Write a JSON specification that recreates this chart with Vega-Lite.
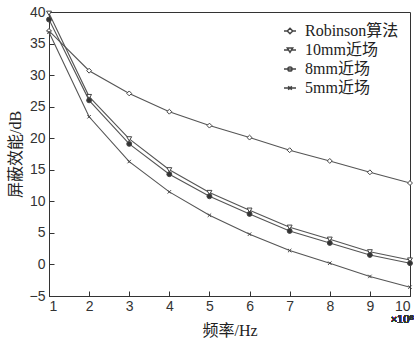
{
  "$schema": "https://vega.github.io/schema/vega-lite/v6.json",
  "width": 361,
  "height": 284,
  "autosize": "none",
  "padding": {"left": 49, "top": 12, "right": 4, "bottom": 45},
  "background": "white",
  "config": {
    "view": {"stroke": "#333", "strokeWidth": 1},
    "axis": {
      "grid": false,
      "domainColor": "#333",
      "tickColor": "#333",
      "labelFont": "Liberation Sans",
      "labelFontSize": 14,
      "labelColor": "#333",
      "titleFont": "'Liberation Serif', 'Noto Sans CJK SC'",
      "titleFontSize": 16,
      "titleFontWeight": "normal",
      "titleColor": "#222"
    },
    "legend": {
      "orient": "top-right",
      "offset": 11,
      "padding": 0,
      "labelFont": "'Liberation Serif', 'Noto Sans CJK SC'",
      "labelFontSize": 16,
      "labelColor": "#222",
      "labelOffset": 7,
      "rowPadding": 3,
      "symbolSize": 144
    }
  },
  "data": {
    "values": [
      {"f": 1, "se": 37.0, "series": "Robinson算法"},
      {"f": 2, "se": 30.7, "series": "Robinson算法"},
      {"f": 3, "se": 27.1, "series": "Robinson算法"},
      {"f": 4, "se": 24.2, "series": "Robinson算法"},
      {"f": 5, "se": 22.0, "series": "Robinson算法"},
      {"f": 6, "se": 20.1, "series": "Robinson算法"},
      {"f": 7, "se": 18.1, "series": "Robinson算法"},
      {"f": 8, "se": 16.4, "series": "Robinson算法"},
      {"f": 9, "se": 14.6, "series": "Robinson算法"},
      {"f": 10, "se": 12.9, "series": "Robinson算法"},
      {"f": 1, "se": 39.8, "series": "10mm近场"},
      {"f": 2, "se": 26.6, "series": "10mm近场"},
      {"f": 3, "se": 19.9, "series": "10mm近场"},
      {"f": 4, "se": 15.0, "series": "10mm近场"},
      {"f": 5, "se": 11.4, "series": "10mm近场"},
      {"f": 6, "se": 8.6, "series": "10mm近场"},
      {"f": 7, "se": 5.9, "series": "10mm近场"},
      {"f": 8, "se": 4.0, "series": "10mm近场"},
      {"f": 9, "se": 2.0, "series": "10mm近场"},
      {"f": 10, "se": 0.7, "series": "10mm近场"},
      {"f": 1, "se": 38.8, "series": "8mm近场"},
      {"f": 2, "se": 26.0, "series": "8mm近场"},
      {"f": 3, "se": 19.1, "series": "8mm近场"},
      {"f": 4, "se": 14.3, "series": "8mm近场"},
      {"f": 5, "se": 10.8, "series": "8mm近场"},
      {"f": 6, "se": 8.0, "series": "8mm近场"},
      {"f": 7, "se": 5.3, "series": "8mm近场"},
      {"f": 8, "se": 3.4, "series": "8mm近场"},
      {"f": 9, "se": 1.5, "series": "8mm近场"},
      {"f": 10, "se": 0.2, "series": "8mm近场"},
      {"f": 1, "se": 36.8, "series": "5mm近场"},
      {"f": 2, "se": 23.4, "series": "5mm近场"},
      {"f": 3, "se": 16.3, "series": "5mm近场"},
      {"f": 4, "se": 11.5, "series": "5mm近场"},
      {"f": 5, "se": 7.8, "series": "5mm近场"},
      {"f": 6, "se": 4.8, "series": "5mm近场"},
      {"f": 7, "se": 2.2, "series": "5mm近场"},
      {"f": 8, "se": 0.2, "series": "5mm近场"},
      {"f": 9, "se": -1.9, "series": "5mm近场"},
      {"f": 10, "se": -3.6, "series": "5mm近场"}
    ]
  },
  "encoding": {
    "x": {
      "field": "f",
      "type": "quantitative",
      "scale": {"domain": [1, 10], "nice": false, "zero": false},
      "axis": {"title": "频率/Hz", "values": [1, 2, 3, 4, 5, 6, 7, 8, 9, 10], "tickSize": -5, "labelPadding": 8, "titlePadding": 9}
    },
    "y": {
      "field": "se",
      "type": "quantitative",
      "scale": {"domain": [-5, 40], "nice": false, "zero": false},
      "axis": {"title": "屏蔽效能/dB", "values": [-5, 0, 5, 10, 15, 20, 25, 30, 35, 40], "tickSize": -5, "labelPadding": 9, "titlePadding": 6}
    }
  },
  "layer": [
    {
      "mark": {"type": "line", "color": "#555", "strokeWidth": 1.1},
      "encoding": {"detail": {"field": "series"}}
    },
    {
      "mark": {"type": "point", "filled": true, "stroke": "#444", "strokeWidth": 1, "size": 24, "opacity": 1},
      "encoding": {
        "shape": {
          "field": "series",
          "type": "nominal",
          "scale": {"domain": ["Robinson算法", "10mm近场", "8mm近场", "5mm近场"], "range": ["diamond", "triangle-down", "circle", "M-0.7,-0.7L0.7,0.7M-0.7,0.7L0.7,-0.7"]},
          "legend": null
        },
        "fill": {
          "field": "series",
          "type": "nominal",
          "scale": {"domain": ["Robinson算法", "10mm近场", "8mm近场", "5mm近场"], "range": ["white", "white", "#333", "white"]},
          "legend": null
        }
      }
    },
    {
      "mark": {"type": "point", "filled": true, "stroke": "#444", "strokeWidth": 1, "opacity": 0},
      "encoding": {
        "shape": {
          "field": "series",
          "type": "nominal",
          "scale": {"domain": ["Robinson算法", "10mm近场", "8mm近场", "5mm近场"], "range": [
            "M-1,0H-0.45M0.45,0H1M0,-0.45L0.45,0L0,0.45L-0.45,0Z",
            "M-1,0H-0.3M0.3,0H1M-0.45,-0.35L0.45,-0.35L0,0.4Z",
            "M-1,0H1M-0.35,0A0.35,0.35 0 1,0 0.35,0A0.35,0.35 0 1,0 -0.35,0Z",
            "M-1,0H1M-0.3,-0.3L0.3,0.3M-0.3,0.3L0.3,-0.3"
          ]},
          "legend": {"title": null, "encode": {"symbols": {"update": {"opacity": {"value": 1}, "stroke": {"value": "#444"}, "strokeWidth": {"value": 1}}}}}
        },
        "fill": {
          "field": "series",
          "type": "nominal",
          "scale": {"domain": ["Robinson算法", "10mm近场", "8mm近场", "5mm近场"], "range": ["white", "white", "#333", "white"]},
          "legend": {"title": null, "encode": {"symbols": {"update": {"opacity": {"value": 1}, "stroke": {"value": "#444"}, "strokeWidth": {"value": 1}}}}}
        }
      }
    },
    {
      "mark": {"type": "text", "align": "right", "baseline": "top", "dx": 4, "dy": 18, "font": "Liberation Sans", "fontSize": 11, "color": "#333"},
      "encoding": {
        "x": {"datum": 10},
        "y": {"datum": -5},
        "text": {"value": "×10⁸"}
      }
    }
  ],
  "resolve": {"scale": {"shape": "independent", "fill": "independent"}}
}
